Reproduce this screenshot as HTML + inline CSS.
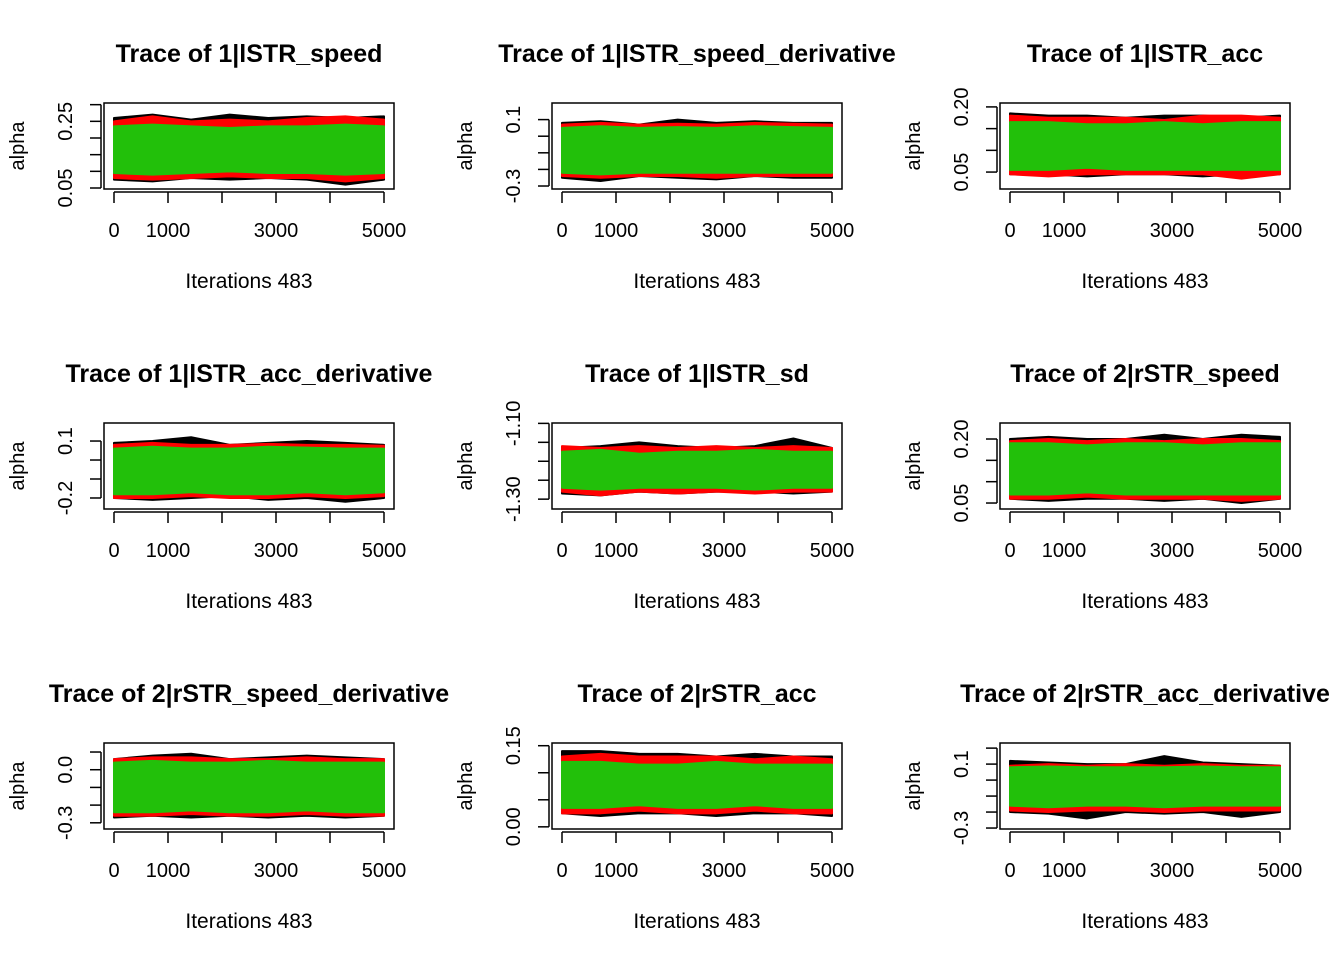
<!DOCTYPE html>
<html><head><meta charset="utf-8"><style>
html,body{margin:0;padding:0;background:#fff;}
svg{display:block;font-family:"Liberation Sans",Arial,sans-serif;}
</style></head><body>
<svg id="chart" width="1344" height="960" viewBox="0 0 1344 960" xmlns="http://www.w3.org/2000/svg"></svg>
<script>
const titles=["Trace of 1|lSTR_speed","Trace of 1|lSTR_speed_derivative","Trace of 1|lSTR_acc","Trace of 1|lSTR_acc_derivative","Trace of 1|lSTR_sd","Trace of 2|rSTR_speed","Trace of 2|rSTR_speed_derivative","Trace of 2|rSTR_acc","Trace of 2|rSTR_acc_derivative"];
const yLims=[[0.047,0.305],[-0.318,0.2],[0.011,0.209],[-0.258,0.195],[-1.326,-1.099],[0.036,0.2375],[-0.335,0.151],[-0.004,0.155],[-0.306,0.232]];
const yTicks=[[0.05,0.10,0.15,0.20,0.25,0.30],[-0.3,-0.2,-0.1,0.0,0.1],[0.05,0.10,0.15,0.20],[-0.2,-0.1,0.0,0.1],[-1.30,-1.25,-1.20,-1.15,-1.10],[0.05,0.10,0.15,0.20],[-0.3,-0.2,-0.1,0.0,0.1],[0.00,0.05,0.10,0.15],[-0.3,-0.2,-0.1,0.0,0.1,0.2]];
const yTickLabels=[["0.05","","","","0.25",""],["-0.3","","","","0.1"],["0.05","","","0.20"],["-0.2","","","0.1"],["-1.30","","","","-1.10"],["0.05","","","0.20"],["-0.3","","","0.0",""],["0.00","","","0.15"],["-0.3","","","","0.1",""]];
const xTicks=[0,1000,2000,3000,4000,5000];
const xTickLabels=["0","1000","","3000","","5000"];
const iters=[0,714,1428,2142,2857,3571,4285,5000];
const blackHi=[[0.26,0.27,0.255,0.27,0.26,0.265,0.26,0.265],[0.08,0.09,0.07,0.1,0.08,0.09,0.08,0.08],[0.185,0.18,0.18,0.175,0.18,0.18,0.175,0.18],[0.09,0.1,0.12,0.08,0.09,0.1,0.09,0.08],[-1.165,-1.16,-1.15,-1.16,-1.165,-1.16,-1.14,-1.165],[0.2,0.205,0.2,0.2,0.21,0.2,0.21,0.205],[0.06,0.08,0.09,0.06,0.07,0.08,0.07,0.06],[0.14,0.14,0.135,0.135,0.13,0.135,0.13,0.13],[0.12,0.11,0.1,0.1,0.15,0.11,0.1,0.09]];
const blackLo=[[0.075,0.07,0.08,0.075,0.08,0.075,0.06,0.075],[-0.25,-0.27,-0.24,-0.25,-0.26,-0.24,-0.25,-0.25],[0.045,0.045,0.04,0.045,0.045,0.04,0.045,0.045],[-0.2,-0.21,-0.2,-0.19,-0.21,-0.2,-0.22,-0.2],[-1.285,-1.29,-1.28,-1.285,-1.28,-1.28,-1.285,-1.28],[0.06,0.055,0.06,0.06,0.055,0.06,0.05,0.06],[-0.27,-0.26,-0.27,-0.26,-0.27,-0.26,-0.27,-0.26],[0.025,0.02,0.025,0.025,0.02,0.025,0.025,0.02],[-0.2,-0.21,-0.24,-0.2,-0.21,-0.2,-0.23,-0.2]];
const redHi=[[0.25,0.265,0.25,0.255,0.25,0.26,0.265,0.255],[0.07,0.08,0.07,0.075,0.07,0.08,0.075,0.07],[0.18,0.175,0.175,0.175,0.17,0.18,0.18,0.175],[0.08,0.09,0.08,0.08,0.085,0.08,0.08,0.075],[-1.16,-1.165,-1.16,-1.165,-1.16,-1.165,-1.16,-1.165],[0.195,0.2,0.195,0.2,0.195,0.2,0.2,0.195],[0.06,0.07,0.07,0.06,0.06,0.07,0.06,0.06],[0.13,0.135,0.13,0.13,0.13,0.125,0.13,0.125],[0.09,0.1,0.09,0.1,0.09,0.1,0.09,0.09]];
const redLo=[[0.08,0.075,0.08,0.085,0.08,0.08,0.07,0.08],[-0.24,-0.25,-0.24,-0.24,-0.25,-0.24,-0.24,-0.24],[0.045,0.04,0.045,0.045,0.045,0.045,0.035,0.045],[-0.2,-0.2,-0.19,-0.2,-0.2,-0.19,-0.2,-0.19],[-1.28,-1.29,-1.28,-1.285,-1.28,-1.285,-1.28,-1.28],[0.06,0.06,0.065,0.06,0.06,0.06,0.055,0.06],[-0.26,-0.26,-0.25,-0.26,-0.26,-0.25,-0.26,-0.26],[0.025,0.025,0.03,0.025,0.025,0.03,0.025,0.025],[-0.19,-0.2,-0.19,-0.19,-0.2,-0.19,-0.19,-0.19]];
const greenHi=[[0.235,0.24,0.235,0.23,0.235,0.235,0.24,0.235],[0.05,0.06,0.05,0.055,0.05,0.06,0.055,0.05],[0.165,0.165,0.16,0.16,0.165,0.16,0.165,0.165],[0.06,0.07,0.06,0.06,0.07,0.065,0.06,0.06],[-1.175,-1.17,-1.18,-1.175,-1.175,-1.17,-1.175,-1.175],[0.19,0.19,0.185,0.19,0.19,0.185,0.19,0.19],[0.04,0.05,0.04,0.04,0.05,0.04,0.04,0.04],[0.12,0.12,0.115,0.115,0.12,0.115,0.115,0.115],[0.08,0.085,0.08,0.08,0.08,0.085,0.08,0.08]];
const greenLo=[[0.095,0.09,0.095,0.1,0.095,0.095,0.09,0.095],[-0.22,-0.23,-0.22,-0.22,-0.22,-0.22,-0.22,-0.22],[0.055,0.055,0.06,0.055,0.055,0.055,0.055,0.055],[-0.18,-0.18,-0.17,-0.18,-0.18,-0.17,-0.18,-0.17],[-1.27,-1.275,-1.27,-1.27,-1.27,-1.275,-1.27,-1.27],[0.07,0.07,0.075,0.07,0.07,0.07,0.07,0.07],[-0.24,-0.24,-0.23,-0.24,-0.24,-0.23,-0.24,-0.24],[0.035,0.035,0.04,0.035,0.035,0.04,0.035,0.035],[-0.16,-0.17,-0.16,-0.16,-0.17,-0.16,-0.16,-0.16]];

const NS="http://www.w3.org/2000/svg";
const svg=document.getElementById('chart');
function mk(tag,attrs,parent,text){const e=document.createElementNS(NS,tag);for(const k in attrs)e.setAttribute(k,attrs[k]);if(text!==undefined)e.textContent=text;parent.appendChild(e);return e;}
const BL=104,BR=394,BT=103,BB=189,X0=114,X1=384;
titles.forEach((t,p)=>{
  const dx=448*(p%3),dy=320*Math.floor(p/3);
  const g=mk('g',{transform:`translate(${dx},${dy})`},svg);
  
  
  const [ymin,ymax]=yLims[p];
  const xs=v=>X0+(X1-X0)*v/5000;
  const ys=v=>BB-(BB-BT)*(v-ymin)/(ymax-ymin);
  const ti=mk('text',{x:249,y:62,'text-anchor':'middle','font-size':25,'font-weight':'bold'},g,t);
  
  
  const chains=[['#000',blackHi,blackLo],['#ff0000',redHi,redLo],['#22c00a',greenHi,greenLo]];
  chains.forEach(([col,hi,lo],ci)=>{
    let pts=iters.map((it,i)=>xs(it)+','+ys(hi[p][i]));
    pts=pts.concat(iters.map((it,i)=>[it,i]).reverse().map(([it,i])=>xs(it)+','+ys(lo[p][i])));
    const poly=mk('polygon',{points:pts.join(' '),fill:col,stroke:col,'stroke-width':2,'stroke-linejoin':'round'},g);
    
    
  });
  const box=mk('rect',{x:BL,y:BT,width:BR-BL,height:BB-BT,fill:'none',stroke:'#000','stroke-width':1.5},g);
  
  
  const xa=mk('g',{},g);
  
  
  mk('line',{x1:xs(0),x2:xs(5000),y1:192,y2:192,stroke:'#000','stroke-width':1.5},xa);
  xTicks.forEach((v,i)=>{
    mk('line',{x1:xs(v),x2:xs(v),y1:192,y2:203,stroke:'#000','stroke-width':1.5},xa);
    if(xTickLabels[i])mk('text',{x:xs(v),y:237,'text-anchor':'middle','font-size':20},xa,xTickLabels[i]);
  });
  const xl=mk('text',{x:249,y:288,'text-anchor':'middle','font-size':21},g,'Iterations 483');
  
  
  const ya=mk('g',{},g);
  
  
  const tk=yTicks[p];
  mk('line',{x1:101,x2:101,y1:ys(tk[0]),y2:ys(tk[tk.length-1]),stroke:'#000','stroke-width':1.5},ya);
  tk.forEach((v,i)=>{
    mk('line',{x1:90,x2:101,y1:ys(v),y2:ys(v),stroke:'#000','stroke-width':1.5},ya);
    const lab=yTickLabels[p][i];
    if(lab)mk('text',{x:0,y:0,'text-anchor':'middle','font-size':20,transform:`translate(72,${ys(v)}) rotate(-90)`},ya,lab);
  });
  const yl=mk('text',{x:0,y:0,'text-anchor':'middle','font-size':20,transform:`translate(24,146) rotate(-90)`},g,'alpha');
  
  
});
</script>
</body></html>
